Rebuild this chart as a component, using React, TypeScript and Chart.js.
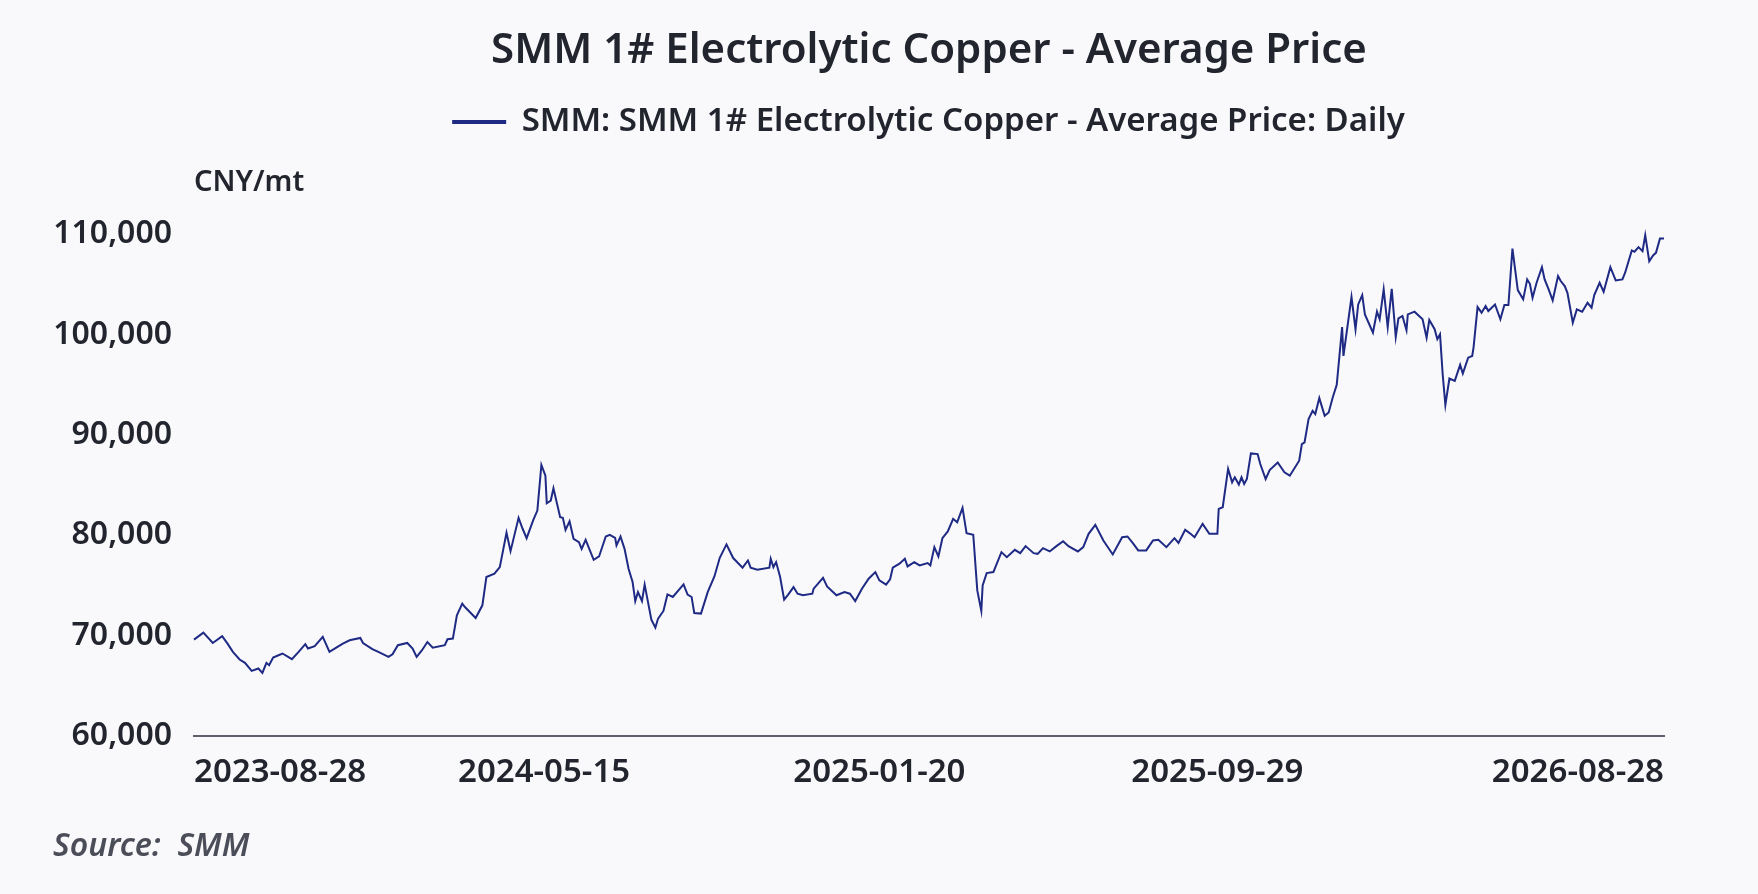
import React, { useEffect, useRef } from 'react';
import { Chart, registerables } from 'chart.js';

Chart.register(...registerables);

const TITLE = 'SMM 1# Electrolytic Copper - Average Price';
const SERIES_NAME = 'SMM: SMM 1# Electrolytic Copper - Average Price: Daily';
const UNIT = 'CNY/mt';
const SOURCE = 'Source:  SMM';

// dates, values in CNY/mt
const dates = [
  '2023-08-28', '2023-09-04', '2023-09-11', '2023-09-18', '2023-09-22', '2023-09-26', '2023-10-01', '2023-10-05',
  '2023-10-10', '2023-10-15', '2023-10-18', '2023-10-21', '2023-10-23', '2023-10-26', '2023-10-30', '2023-11-02',
  '2023-11-09', '2023-11-14', '2023-11-19', '2023-11-21', '2023-11-26', '2023-12-02', '2023-12-07', '2023-12-13',
  '2023-12-17', '2023-12-22', '2023-12-30', '2024-01-01', '2024-01-08', '2024-01-14', '2024-01-20', '2024-01-23',
  '2024-01-27', '2024-02-03', '2024-02-07', '2024-02-10', '2024-02-14', '2024-02-18', '2024-02-22', '2024-03-02',
  '2024-03-04', '2024-03-08', '2024-03-11', '2024-03-15', '2024-03-17', '2024-03-25', '2024-03-30', '2024-04-02',
  '2024-04-08', '2024-04-12', '2024-04-17', '2024-04-20', '2024-04-26', '2024-04-29', '2024-05-02', '2024-05-07',
  '2024-05-10', '2024-05-13', '2024-05-16', '2024-05-17', '2024-05-20', '2024-05-22', '2024-05-27', '2024-05-29',
  '2024-05-31', '2024-06-03', '2024-06-06', '2024-06-10', '2024-06-12', '2024-06-15', '2024-06-21', '2024-06-25',
  '2024-06-30', '2024-07-03', '2024-07-07', '2024-07-08', '2024-07-11', '2024-07-14', '2024-07-17', '2024-07-20',
  '2024-07-22', '2024-07-24', '2024-07-27', '2024-07-29', '2024-08-03', '2024-08-06', '2024-08-08', '2024-08-12',
  '2024-08-15', '2024-08-19', '2024-08-27', '2024-08-30', '2024-09-02', '2024-09-04', '2024-09-09', '2024-09-14',
  '2024-09-19', '2024-09-23', '2024-09-28', '2024-10-03', '2024-10-10', '2024-10-14', '2024-10-16', '2024-10-21',
  '2024-10-30', '2024-10-31', '2024-11-02', '2024-11-04', '2024-11-07', '2024-11-10', '2024-11-13', '2024-11-17',
  '2024-11-20', '2024-11-24', '2024-12-01', '2024-12-02', '2024-12-09', '2024-12-12', '2024-12-19', '2024-12-25',
  '2024-12-29', '2025-01-02', '2025-01-07', '2025-01-12', '2025-01-17', '2025-01-20', '2025-01-25', '2025-01-28',
  '2025-01-30', '2025-02-04', '2025-02-08', '2025-02-10', '2025-02-15', '2025-02-19', '2025-02-25', '2025-02-27',
  '2025-03-02', '2025-03-05', '2025-03-08', '2025-03-12', '2025-03-16', '2025-03-19', '2025-03-23', '2025-03-26',
  '2025-03-31', '2025-04-03', '2025-04-06', '2025-04-07', '2025-04-10', '2025-04-15', '2025-04-21', '2025-04-25',
  '2025-05-01', '2025-05-05', '2025-05-09', '2025-05-15', '2025-05-18', '2025-05-22', '2025-05-27', '2025-06-01',
  '2025-06-06', '2025-06-10', '2025-06-17', '2025-06-21', '2025-06-25', '2025-06-30', '2025-07-06', '2025-07-13',
  '2025-07-20', '2025-07-24', '2025-07-28', '2025-08-01', '2025-08-07', '2025-08-12', '2025-08-16', '2025-08-22',
  '2025-08-28', '2025-08-31', '2025-09-05', '2025-09-09', '2025-09-12', '2025-09-18', '2025-09-23', '2025-09-29',
  '2025-09-30', '2025-10-03', '2025-10-07', '2025-10-10', '2025-10-12', '2025-10-15', '2025-10-17', '2025-10-19',
  '2025-10-21', '2025-10-24', '2025-10-29', '2025-10-31', '2025-11-04', '2025-11-07', '2025-11-13', '2025-11-18',
  '2025-11-22', '2025-11-29', '2025-12-01', '2025-12-03', '2025-12-06', '2025-12-09', '2025-12-11', '2025-12-14',
  '2025-12-18', '2025-12-21', '2025-12-24', '2025-12-27', '2025-12-31', '2026-01-01', '2026-01-07', '2026-01-10',
  '2026-01-12', '2026-01-15', '2026-01-17', '2026-01-23', '2026-01-26', '2026-01-28', '2026-01-31', '2026-02-03',
  '2026-02-06', '2026-02-09', '2026-02-11', '2026-02-14', '2026-02-17', '2026-02-18', '2026-02-23', '2026-03-01',
  '2026-03-04', '2026-03-06', '2026-03-10', '2026-03-12', '2026-03-14', '2026-03-16', '2026-03-18', '2026-03-21',
  '2026-03-25', '2026-03-29', '2026-03-31', '2026-04-04', '2026-04-07', '2026-04-08', '2026-04-11', '2026-04-14',
  '2026-04-17', '2026-04-19', '2026-04-24', '2026-04-28', '2026-05-01', '2026-05-04', '2026-05-07', '2026-05-11',
  '2026-05-15', '2026-05-18', '2026-05-20', '2026-05-22', '2026-05-25', '2026-05-29', '2026-05-31', '2026-06-03',
  '2026-06-06', '2026-06-10', '2026-06-12', '2026-06-15', '2026-06-17', '2026-06-21', '2026-06-24', '2026-06-28',
  '2026-07-02', '2026-07-05', '2026-07-07', '2026-07-11', '2026-07-14', '2026-07-19', '2026-07-23', '2026-07-28',
  '2026-07-30', '2026-08-04', '2026-08-06', '2026-08-09', '2026-08-12', '2026-08-14', '2026-08-17', '2026-08-20',
  '2026-08-22', '2026-08-25', '2026-08-28',
];

const prices = [
  69600, 70300, 69270, 69940, 69200, 68380, 67620, 67290,
  66490, 66730, 66290, 67290, 67060, 67820, 68050, 68220,
  67650, 68380, 69150, 68720, 68950, 69870, 68380, 68880,
  69210, 69540, 69770, 69270, 68650, 68280, 67880, 68150,
  69050, 69270, 68720, 67880, 68550, 69360, 68800, 69050,
  69640, 69710, 72030, 73190, 72850, 71760, 73020, 75840,
  76170, 76830, 80250, 78420, 81740, 80650, 79710, 81540,
  82460, 87010, 85940, 83190, 83460, 84680, 81800, 81740,
  80540, 81400, 79650, 79310, 78650, 79550, 77560, 77890,
  79880, 80050, 79750, 78990, 79880, 78650, 76660, 75340,
  73450, 74340, 73450, 75080, 71600, 70800, 71700, 72460,
  74110, 73850, 75110, 74090, 73850, 72260, 72200, 74340,
  75900, 77760, 79090, 77730, 76770, 77490, 76770, 76570,
  76770, 77660, 76830, 77330, 75840, 73590, 74090, 74840,
  74180, 74020, 74180, 74680, 75770, 74910, 74020, 74340,
  74180, 73450, 74680, 75670, 76330, 75510, 75080, 75610,
  76770, 77170, 77660, 76900, 77330, 77000, 77230, 77000,
  78820, 77890, 79710, 80380, 81640, 81300, 82730, 80210,
  80050, 74510, 72460, 75010, 76230, 76330, 78320, 77820,
  78550, 78220, 78920, 78220, 78150, 78720, 78390, 78920,
  79410, 78920, 78390, 78820, 80150, 81040, 79480, 78090,
  79810, 79880, 79210, 78490, 78490, 79480, 79550, 78820,
  79710, 79240, 80540, 80150, 79810, 81140, 80150, 80150,
  82630, 82800, 86610, 85280, 85780, 85050, 85780, 85120,
  85610, 88160, 88090, 87100, 85610, 86500, 87260, 86270,
  85940, 87430, 89090, 89250, 91580, 92400, 92080, 93670,
  91910, 92240, 93730, 94990, 100750, 97870, 103740, 100530,
  103000, 103930, 102010, 100190, 102280, 101520, 104500, 100750,
  104560, 99760, 101620, 101850, 100430, 102010, 102280, 101520,
  99690, 101450, 100530, 99540, 100030, 96020, 93000, 95620,
  95390, 96980, 96110, 97700, 97870, 98700, 102740, 102180,
  102840, 102340, 103000, 101520, 102940, 102940, 108570, 104430,
  103510, 105500, 105060, 103670, 105160, 106720, 105500, 104500,
  103410, 105830, 105330, 104830, 104160, 101180, 102510, 102280,
  103170, 102680, 103930, 105160, 104270, 106720, 105390, 105500,
  106160, 108390, 108250, 108710, 108310, 109900, 107310, 107910,
  108140, 109570, 109570,
];

const tickDates = ['2023-08-28', '2024-05-15', '2025-01-20', '2025-09-29', '2026-08-28'];
const yTicks = [60000, 70000, 80000, 90000, 100000, 110000];

const FONT = "'Noto Sans', sans-serif";
const TEXT = '#22252e';
const LINE = '#1f2a85';

// days since the first tick date
const dayNum = (s: string) => {
    const [y, m, d] = s.split('-').map(Number);
    return Date.UTC(y, m - 1, d) / 86400000;
};
const startDay = dayNum(tickDates[0]);
const toX = (s: string) => dayNum(s) - startDay;

const sourceNote = {
    id: 'sourceNote',
    afterDraw(chart: any) {
        const { ctx, chartArea } = chart;
        ctx.save();
        ctx.font = `italic 600 32px ${FONT}`;
        ctx.fillStyle = '#4b4e58';
        ctx.textAlign = 'left';
        ctx.textBaseline = 'middle';
        ctx.fillText(SOURCE, 53, chartArea.bottom + 111);
        ctx.restore();
    },
};

export default function App() {
    const canvasRef = useRef<HTMLCanvasElement>(null);

    useEffect(() => {
        if (!canvasRef.current) return;
        const points = dates.map((d, i) => ({ x: toX(d), y: prices[i] }));
        const tickDays = tickDates.map(toX);

        const chart = new Chart(canvasRef.current, {
            type: 'line',
            data: {
                datasets: [{
                    label: SERIES_NAME,
                    data: points,
                    borderColor: LINE,
                    backgroundColor: LINE,
                    borderWidth: 2,
                    pointRadius: 0,
                    tension: 0,
                    fill: false,
                    clip: false,
                }],
            },
            options: {
                animation: false,
                responsive: true,
                maintainAspectRatio: false,
                events: [],
                layout: { padding: { top: 0, left: 0, right: 94, bottom: 98 } },
                plugins: {
                    title: {
                        display: true,
                        text: TITLE,
                        fullSize: false,
                        color: TEXT,
                        font: { family: FONT, size: 42, weight: 600 },
                        padding: { top: 26, bottom: 19 },
                    },
                    legend: {
                        display: true,
                        fullSize: false,
                        labels: {
                            boxWidth: 52,
                            boxHeight: 2,
                            padding: 10,
                            color: TEXT,
                            font: { family: FONT, size: 33, weight: 600 },
                        },
                    },
                    subtitle: {
                        display: true,
                        text: UNIT,
                        align: 'start',
                        fullSize: false,
                        weight: 500,
                        color: TEXT,
                        font: { family: FONT, size: 29, weight: 600 },
                        padding: { top: 17, bottom: 34 },
                    },
                    tooltip: { enabled: false },
                },
                scales: {
                    x: {
                        type: 'linear',
                        min: 0,
                        max: tickDays[tickDays.length - 1],
                        grid: { display: false, drawTicks: false },
                        border: { display: true, color: '#5e5f68', width: 2 },
                        afterBuildTicks: (scale: any) => {
                            scale.ticks = tickDays.map((v) => ({ value: v }));
                        },
                        afterFit: (scale: any) => {
                            scale.height = 60;
                        },
                        ticks: {
                            align: 'inner',
                            autoSkip: false,
                            maxRotation: 0,
                            padding: 17,
                            color: TEXT,
                            font: { family: FONT, size: 33, weight: 600 },
                            callback: (_v: any, i: number) => tickDates[i],
                        },
                    },
                    y: {
                        min: yTicks[0],
                        max: yTicks[yTicks.length - 1],
                        grid: { display: false, drawTicks: false },
                        border: { display: false },
                        afterBuildTicks: (scale: any) => {
                            scale.ticks = yTicks.map((v) => ({ value: v }));
                        },
                        afterFit: (scale: any) => {
                            scale.width = 194;
                        },
                        ticks: {
                            padding: 22,
                            color: TEXT,
                            font: { family: FONT, size: 32, weight: 600 },
                            callback: (v: any) => Number(v).toLocaleString('en-US'),
                        },
                    },
                },
            },
            plugins: [sourceNote],
        } as any);

        return () => chart.destroy();
    }, []);

    return (
        <div style={{ position: 'fixed', inset: 0, background: '#f9f9fb' }}>
            <div style={{ position: 'relative', width: 1758, height: 894 }}>
                <canvas ref={canvasRef}></canvas>
            </div>
        </div>
    );
}
